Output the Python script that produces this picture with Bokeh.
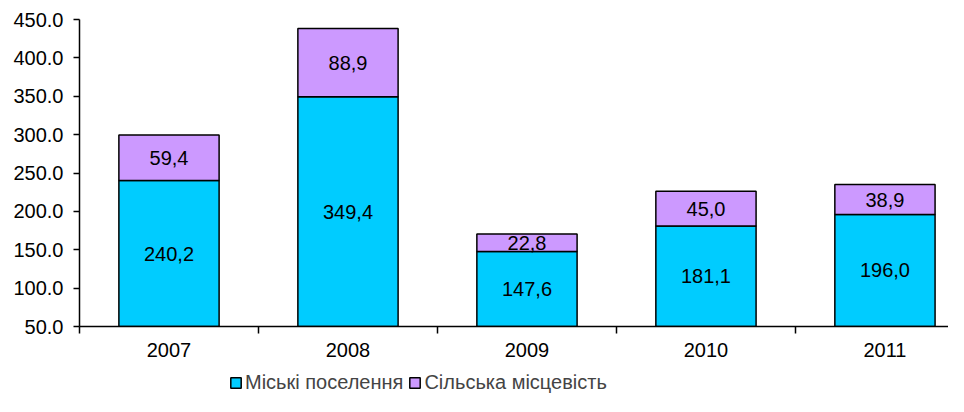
from bokeh.plotting import figure
from bokeh.layouts import column
from bokeh.models import (Range1d, FixedTicker, ColumnDataSource, Legend, LegendItem,
                          PrintfTickFormatter)
from bokeh.core.properties import value
from bokeh.embed import file_html
from bokeh.resources import INLINE

years = ["2007", "2008", "2009", "2010", "2011"]
urban = [240.2, 349.4, 147.6, 181.1, 196.0]
rural = [59.4, 88.9, 22.8, 45.0, 38.9]
series_names = ["Міські поселення", "Сільська місцевість"]
y_ticks = [50, 100, 150, 200, 250, 300, 350, 400, 450]

FONT = "Liberation Sans"
FS = "20px"
C_URBAN = "#00CCFF"
C_RURAL = "#CC99FF"

y_min, y_max = y_ticks[0], y_ticks[-1]
n = len(years)
xs = [i + 0.5 for i in range(n)]

def fmt(v):
    return ("%.1f" % v).replace(".", ",")

lab_x, lab_y, lab_t = [], [], []
for i in range(n):
    lo = max(0, y_min)
    lab_x.append(xs[i]); lab_y.append((lo + urban[i]) / 2); lab_t.append(fmt(urban[i]))
    lab_x.append(xs[i]); lab_y.append(urban[i] + rural[i] / 2); lab_t.append(fmt(rural[i]))

src = ColumnDataSource(dict(x=xs, urban=urban, rural=rural))
lsrc = ColumnDataSource(dict(x=lab_x, y=lab_y, t=lab_t))

W = 948
p = figure(width=W, height=366, x_range=Range1d(0, 4.855), y_range=Range1d(y_min, y_max),
           output_backend="svg", toolbar_location=None,
           min_border_left=79, min_border_top=19, min_border_bottom=40, min_border_right=0)

rs = p.vbar_stack(["urban", "rural"], x="x", width=0.56, source=src,
                  fill_color=[C_URBAN, C_RURAL], line_color="black", line_width=1.5)

p.text(x="x", y="y", text="t", source=lsrc, text_font=value(FONT), text_font_size=FS,
       text_align="center", text_baseline="middle", text_color="black")

p.grid.visible = False
p.outline_line_color = None
p.background_fill_color = "white"

ya = p.yaxis[0]
ya.ticker = FixedTicker(ticks=y_ticks)
ya.formatter = PrintfTickFormatter(format="%.1f")
ya.major_tick_out = 6
ya.major_tick_in = 0
ya.minor_tick_out = 0
ya.minor_tick_in = 0
ya.axis_line_width = 1.5
ya.major_tick_line_width = 1.5
ya.axis_line_color = "black"
ya.major_tick_line_color = "black"
ya.major_label_standoff = 10
ya.major_label_text_font = FONT
ya.major_label_text_font_size = FS
ya.major_label_text_color = "black"

xa = p.xaxis[0]
xa.ticker = FixedTicker(ticks=xs, minor_ticks=list(range(n + 1)))
xa.major_label_overrides = {xs[i]: years[i] for i in range(n)}
xa.major_tick_out = 0
xa.major_tick_in = 0
xa.minor_tick_out = 7
xa.minor_tick_in = 0
xa.minor_tick_line_width = 1.5
xa.minor_tick_line_color = "black"
xa.axis_line_width = 1.5
xa.axis_line_color = "black"
xa.major_label_standoff = 9
xa.major_label_text_font = FONT
xa.major_label_text_font_size = FS
xa.major_label_text_color = "black"

# legend strip: same series, renderers hidden, only the legend is shown
pl = figure(width=W, height=30, x_range=Range1d(0, 1), y_range=Range1d(0, 1),
            output_backend="svg", toolbar_location=None,
            x_axis_location=None, y_axis_location=None,
            min_border_left=0, min_border_right=0, min_border_top=0, min_border_bottom=0)
pl.grid.visible = False
pl.outline_line_color = None
lr = pl.vbar_stack(["urban", "rural"], x="x", width=0.56, source=src,
                   fill_color=[C_URBAN, C_RURAL], line_color="black", line_width=1.5)
for r in lr:
    r.visible = False
legend = Legend(items=[LegendItem(label=series_names[i], renderers=[lr[i]]) for i in range(2)],
                orientation="horizontal", location=(150, 2),
                label_text_font=FONT, label_text_font_size=FS,
                glyph_width=13, glyph_height=13, label_standoff=3, spacing=5,
                padding=0, margin=0, border_line_color=None, background_fill_alpha=0)
pl.add_layout(legend, "center")

open("out.html", "w").write(file_html(column(p, pl, spacing=0), INLINE))
